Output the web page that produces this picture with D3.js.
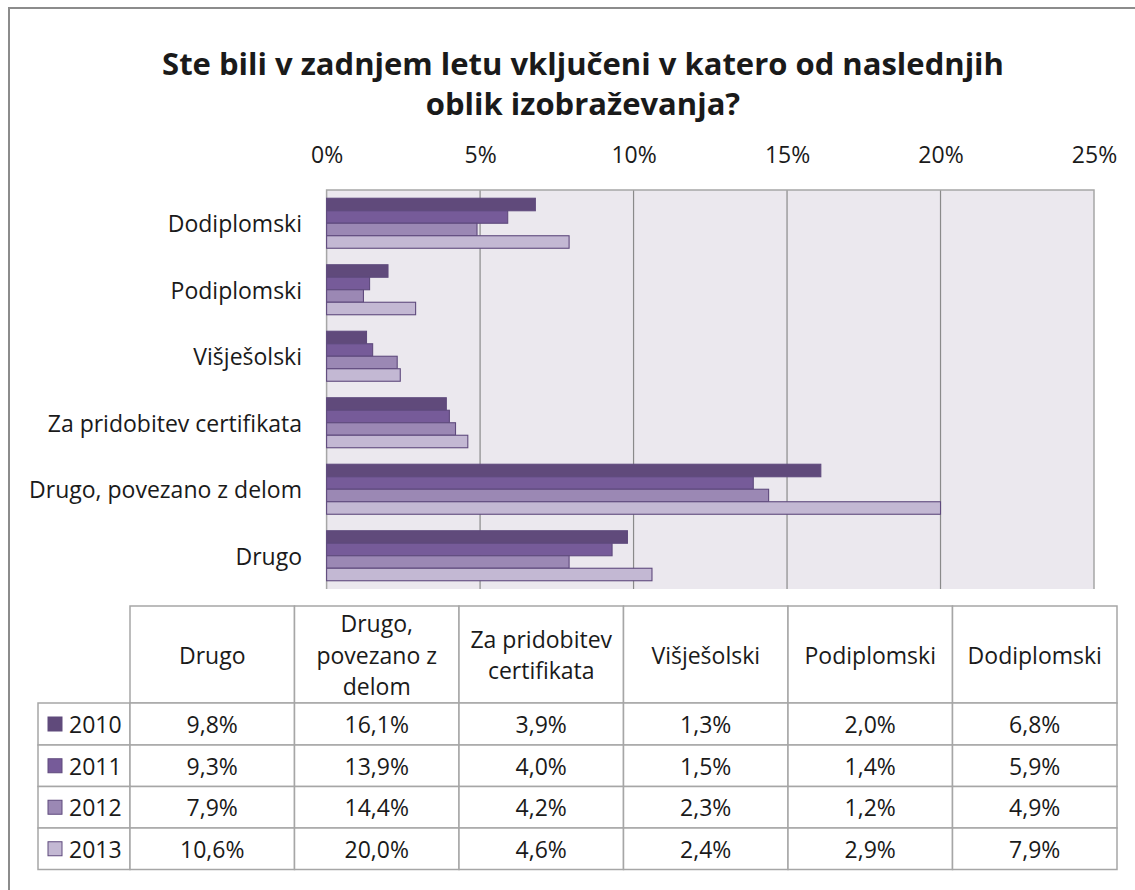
<!DOCTYPE html>
<html><head><meta charset="utf-8">
<script src="https://cdn.jsdelivr.net/npm/d3@7"></script>
<style>
html,body{margin:0;padding:0;background:#fff;}
svg{display:block;}
text{font-family:"Open Sans",sans-serif;fill:#1a1a1a;}
</style></head>
<body>
<svg id="chart" width="1135" height="890"></svg>
<script>
// ---- data ----
const titleLines = ["Ste bili v zadnjem letu vključeni v katero od naslednjih", "oblik izobraževanja?"];
const categories = ["Dodiplomski", "Podiplomski", "Višješolski", "Za pridobitev certifikata", "Drugo, povezano z delom", "Drugo"];
const years = ["2010", "2011", "2012", "2013"];
const v2010 = [6.8, 2.0, 1.3, 3.9, 16.1, 9.8];
const v2011 = [5.9, 1.4, 1.5, 4.0, 13.9, 9.3];
const v2012 = [4.9, 1.2, 2.3, 4.2, 14.4, 7.9];
const v2013 = [7.9, 2.9, 2.4, 4.6, 20.0, 10.6];
const tickValues = [0, 5, 10, 15, 20, 25];
const tableColumns = ["Drugo", "Drugo, povezano z delom", "Za pridobitev certifikata", "Višješolski", "Podiplomski", "Dodiplomski"];
const tableHeaderLines = [["Drugo"], ["Drugo,", "povezano z", "delom"], ["Za pridobitev", "certifikata"], ["Višješolski"], ["Podiplomski"], ["Dodiplomski"]];
const colors = ["#604a7b", "#765b99", "#9b88b4", "#c3b8d3"];

const series = [v2010, v2011, v2012, v2013];
const fmt = v => d3.format(".1f")(v).replace(".", ",") + "%";
const FS = "23px";

const svg = d3.select("#chart");

// outer frame
svg.append("rect").attr("x", 9).attr("y", 8).attr("width", 1140).attr("height", 900)
  .attr("fill", "none").attr("stroke", "#8c8c8c").attr("stroke-width", 2);

// title
svg.append("text").attr("x", 583).attr("text-anchor", "middle")
  .style("font-weight", "bold").style("font-size", "31px")
  .selectAll("tspan").data(titleLines).join("tspan")
  .attr("x", 583).attr("y", (d, i) => 75 + i * 40).text(d => d);

// plot
const pLeft = 326.6, pRight = 1094, pTop = 190, pBottom = 589;
const x = d3.scaleLinear().domain([0, 25]).range([pLeft, pRight]);
const y = d3.scaleBand().domain(categories).range([pTop, pBottom]);
const groupH = 50;
const yInner = d3.scaleBand().domain(years).range([0, groupH]);

svg.append("rect").attr("x", pLeft).attr("y", pTop).attr("width", pRight - pLeft).attr("height", pBottom - pTop)
  .attr("fill", "#ebe8ee");

// gridlines
svg.append("g").selectAll("line").data(tickValues.slice(1, -1)).join("line")
  .attr("x1", d => x(d)).attr("x2", d => x(d)).attr("y1", pTop).attr("y2", pBottom)
  .attr("stroke", "#8a8a8a").attr("stroke-width", 1.2);

// plot border (top, right, left)
svg.append("path")
  .attr("d", `M${pLeft},${pBottom}V${pTop}H${pRight}V${pBottom}`)
  .attr("fill", "none").attr("stroke", "#a6a6a6").attr("stroke-width", 1.5);

// top axis
const axis = d3.axisTop(x).tickValues(tickValues).tickFormat(d => d + "%").tickSize(0).tickPadding(0);
const ax = svg.append("g").attr("transform", `translate(0,163)`).call(axis);
ax.select(".domain").remove();
ax.attr("font-family", null).attr("font-size", null);
ax.selectAll("text").style("font-size", FS).style("fill", "#1a1a1a");

// category labels
svg.append("g").selectAll("text").data(categories).join("text")
  .attr("x", 302).attr("y", d => y(d) + y.bandwidth() / 2)
  .attr("text-anchor", "end").attr("dominant-baseline", "central")
  .style("font-size", FS).text(d => d);

// bars
const off = (y.bandwidth() - groupH) / 2;
years.forEach((yr, si) => {
  svg.append("g").selectAll("rect").data(categories).join("rect")
    .attr("x", x(0))
    .attr("y", (d, i) => y(d) + off + yInner(yr))
    .attr("width", (d, i) => x(series[si][i]) - x(0))
    .attr("height", yInner.bandwidth())
    .attr("fill", colors[si])
    .attr("stroke", "#5f4a7d").attr("stroke-width", 1.1);
});

// data table
const colX0 = 130, colW = 164.5, legX0 = 38;
const headTop = 606, headBot = 703;
const rowYs = [703, 745, 786.5, 828, 869.5];
const tblColor = "#a6a6a6";
const tbl = svg.append("g");
// header cells
tableColumns.forEach((c, i) => {
  tbl.append("rect").attr("x", colX0 + i * colW).attr("y", headTop).attr("width", colW).attr("height", headBot - headTop)
    .attr("fill", "#fff").attr("stroke", tblColor).attr("stroke-width", 1.5);
  const lines = tableHeaderLines[i];
  const cy = (headTop + headBot) / 2;
  tbl.append("text").attr("text-anchor", "middle").style("font-size", FS).style("fill", "#1a1a1a")
    .selectAll("tspan").data(lines).join("tspan")
    .attr("x", colX0 + i * colW + colW / 2)
    .attr("y", (d, k) => cy + (k - (lines.length - 1) / 2) * 31.5)
    .attr("dominant-baseline", "central")
    .text(d => d);
});
// data rows
years.forEach((yr, r) => {
  const y0 = rowYs[r], y1 = rowYs[r + 1], cy = (y0 + y1) / 2;
  tbl.append("rect").attr("x", legX0).attr("y", y0).attr("width", colX0 - legX0).attr("height", y1 - y0)
    .attr("fill", "#fff").attr("stroke", tblColor).attr("stroke-width", 1.5);
  tbl.append("rect").attr("x", 48).attr("y", cy - 7).attr("width", 14).attr("height", 14)
    .attr("fill", colors[r]).attr("stroke", "#5f4a7d").attr("stroke-width", 1);
  tbl.append("text").attr("x", 69).attr("y", cy).attr("dominant-baseline", "central")
    .style("font-size", FS).text(yr);
  tableColumns.forEach((c, i) => {
    const ci = categories.indexOf(c);
    tbl.append("rect").attr("x", colX0 + i * colW).attr("y", y0).attr("width", colW).attr("height", y1 - y0)
      .attr("fill", "#fff").attr("stroke", tblColor).attr("stroke-width", 1.5);
    tbl.append("text").attr("x", colX0 + i * colW + colW / 2).attr("y", cy)
      .attr("text-anchor", "middle").attr("dominant-baseline", "central")
      .style("font-size", FS).text(fmt(series[r][ci]));
  });
});
</script>
</body></html>
